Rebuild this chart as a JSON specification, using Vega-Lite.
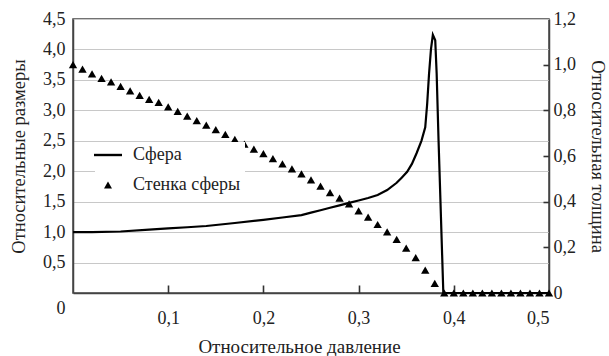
{
  "$schema": "https://vega.github.io/schema/vega-lite/v6.json",
  "width": 476,
  "height": 274,
  "autosize": "none",
  "padding": {"left": 73, "top": 19, "right": 60, "bottom": 63},
  "background": "white",
  "config": {
    "font": "Liberation Serif",
    "view": {"stroke": "#444", "strokeWidth": 1.5},
    "axis": {
      "labelFont": "Liberation Serif",
      "titleFont": "Liberation Serif",
      "labelFontSize": 18,
      "titleFontSize": 18.5,
      "titleFontWeight": "normal",
      "labelColor": "#222",
      "titleColor": "#222",
      "domainColor": "#444",
      "domainWidth": 1.5,
      "tickColor": "#333",
      "tickWidth": 1.6,
      "gridColor": "#c8c8c8",
      "gridWidth": 1.2
    }
  },
  "datasets": {
    "sphere": [
      {"p": 0, "size": 1.0}, {"p": 0.02, "size": 1.0}, {"p": 0.05, "size": 1.01},
      {"p": 0.08, "size": 1.04}, {"p": 0.10, "size": 1.06}, {"p": 0.12, "size": 1.08},
      {"p": 0.14, "size": 1.10}, {"p": 0.17, "size": 1.15}, {"p": 0.20, "size": 1.20},
      {"p": 0.22, "size": 1.24}, {"p": 0.24, "size": 1.28}, {"p": 0.25, "size": 1.32},
      {"p": 0.26, "size": 1.36}, {"p": 0.27, "size": 1.40}, {"p": 0.28, "size": 1.44},
      {"p": 0.29, "size": 1.48}, {"p": 0.30, "size": 1.52}, {"p": 0.31, "size": 1.56},
      {"p": 0.32, "size": 1.61}, {"p": 0.33, "size": 1.69}, {"p": 0.34, "size": 1.81},
      {"p": 0.345, "size": 1.89}, {"p": 0.351, "size": 1.99}, {"p": 0.356, "size": 2.12},
      {"p": 0.361, "size": 2.30}, {"p": 0.366, "size": 2.50}, {"p": 0.370, "size": 2.72},
      {"p": 0.372, "size": 3.1}, {"p": 0.374, "size": 3.6}, {"p": 0.376, "size": 4.0},
      {"p": 0.378, "size": 4.24}, {"p": 0.3805, "size": 4.15}, {"p": 0.382, "size": 3.6},
      {"p": 0.384, "size": 2.5}, {"p": 0.386, "size": 1.5}, {"p": 0.389, "size": 0},
      {"p": 0.5, "size": 0}
    ],
    "wall": [
      {"p": 0.00, "t": 1.0, "series": "Стенка сферы"},
      {"p": 0.01, "t": 0.98, "series": "Стенка сферы"},
      {"p": 0.02, "t": 0.96, "series": "Стенка сферы"},
      {"p": 0.03, "t": 0.94, "series": "Стенка сферы"},
      {"p": 0.04, "t": 0.925, "series": "Стенка сферы"},
      {"p": 0.05, "t": 0.905, "series": "Стенка сферы"},
      {"p": 0.06, "t": 0.885, "series": "Стенка сферы"},
      {"p": 0.07, "t": 0.865, "series": "Стенка сферы"},
      {"p": 0.08, "t": 0.848, "series": "Стенка сферы"},
      {"p": 0.09, "t": 0.835, "series": "Стенка сферы"},
      {"p": 0.10, "t": 0.815, "series": "Стенка сферы"},
      {"p": 0.11, "t": 0.795, "series": "Стенка сферы"},
      {"p": 0.12, "t": 0.775, "series": "Стенка сферы"},
      {"p": 0.13, "t": 0.755, "series": "Стенка сферы"},
      {"p": 0.14, "t": 0.735, "series": "Стенка сферы"},
      {"p": 0.15, "t": 0.715, "series": "Стенка сферы"},
      {"p": 0.16, "t": 0.695, "series": "Стенка сферы"},
      {"p": 0.17, "t": 0.673, "series": "Стенка сферы"},
      {"p": 0.18, "t": 0.652, "series": "Стенка сферы"},
      {"p": 0.19, "t": 0.63, "series": "Стенка сферы"},
      {"p": 0.20, "t": 0.61, "series": "Стенка сферы"},
      {"p": 0.21, "t": 0.588, "series": "Стенка сферы"},
      {"p": 0.22, "t": 0.566, "series": "Стенка сферы"},
      {"p": 0.23, "t": 0.544, "series": "Стенка сферы"},
      {"p": 0.24, "t": 0.522, "series": "Стенка сферы"},
      {"p": 0.25, "t": 0.495, "series": "Стенка сферы"},
      {"p": 0.26, "t": 0.468, "series": "Стенка сферы"},
      {"p": 0.27, "t": 0.44, "series": "Стенка сферы"},
      {"p": 0.28, "t": 0.415, "series": "Стенка сферы"},
      {"p": 0.29, "t": 0.39, "series": "Стенка сферы"},
      {"p": 0.30, "t": 0.36, "series": "Стенка сферы"},
      {"p": 0.31, "t": 0.332, "series": "Стенка сферы"},
      {"p": 0.32, "t": 0.30, "series": "Стенка сферы"},
      {"p": 0.33, "t": 0.268, "series": "Стенка сферы"},
      {"p": 0.34, "t": 0.235, "series": "Стенка сферы"},
      {"p": 0.35, "t": 0.196, "series": "Стенка сферы"},
      {"p": 0.36, "t": 0.155, "series": "Стенка сферы"},
      {"p": 0.37, "t": 0.10, "series": "Стенка сферы"},
      {"p": 0.38, "t": 0.042, "series": "Стенка сферы"},
      {"p": 0.39, "t": 0, "series": "Стенка сферы"},
      {"p": 0.40, "t": 0, "series": "Стенка сферы"},
      {"p": 0.41, "t": 0, "series": "Стенка сферы"},
      {"p": 0.42, "t": 0, "series": "Стенка сферы"},
      {"p": 0.43, "t": 0, "series": "Стенка сферы"},
      {"p": 0.44, "t": 0, "series": "Стенка сферы"},
      {"p": 0.45, "t": 0, "series": "Стенка сферы"},
      {"p": 0.46, "t": 0, "series": "Стенка сферы"},
      {"p": 0.47, "t": 0, "series": "Стенка сферы"},
      {"p": 0.48, "t": 0, "series": "Стенка сферы"},
      {"p": 0.49, "t": 0, "series": "Стенка сферы"},
      {"p": 0.50, "t": 0, "series": "Стенка сферы"}
    ]
  },
  "layer": [
    {
      "data": {"name": "sphere"},
      "mark": {"type": "line", "color": "black", "strokeWidth": 2.2},
      "encoding": {
        "x": {
          "field": "p", "type": "quantitative",
          "scale": {"domain": [0, 0.5], "nice": false},
          "axis": {
            "orient": "bottom",
            "title": "Относительное давление",
            "titleFontSize": 19,
            "titleX": 226,
            "values": [0.1, 0.2, 0.3, 0.4, 0.5],
            "grid": false,
            "ticks": false,
            "labelPadding": 16,
            "titlePadding": 10,
            "labelExpr": "replace(format(datum.value, '.1f'), '.', ',')"
          }
        },
        "y": {
          "field": "size", "type": "quantitative",
          "scale": {"domain": [0, 4.5], "nice": false},
          "axis": {
            "title": "Относительные размеры",
            "values": [0, 0.5, 1, 1.5, 2, 2.5, 3, 3.5, 4, 4.5],
            "ticks": false,
            "grid": true,
            "labelPadding": 8,
            "titlePadding": 14,
            "labelOffset": {"condition": {"test": "datum.value == 0", "value": 15}, "value": 0},
            "labelExpr": "datum.value == 0 ? '0' : replace(format(datum.value, '.1f'), '.', ',')"
          }
        }
      }
    },
    {
      "data": {"name": "wall"},
      "mark": {"type": "point", "opacity": 0, "size": 1},
      "encoding": {
        "x": {
          "field": "p", "type": "quantitative",
          "axis": {
            "orient": "bottom",
            "title": null, "labels": false, "domain": false, "grid": false,
            "values": [0.1, 0.2, 0.3, 0.4],
            "ticks": true, "tickSize": 8, "offset": -8
          }
        },
        "y": {
          "field": "t", "type": "quantitative",
          "scale": {"domain": [0, 1.2], "nice": false},
          "axis": {
            "orient": "right",
            "title": null, "labels": false, "domain": false, "grid": false,
            "values": [0.2, 0.4, 0.6, 0.8, 1.0],
            "ticks": true, "tickSize": 6, "offset": -6
          }
        }
      }
    },
    {
      "data": {"name": "wall"},
      "mark": {"type": "point", "filled": true, "size": 70, "color": "black", "opacity": 1},
      "encoding": {
        "x": {"field": "p", "type": "quantitative", "axis": null},
        "y": {
          "field": "t", "type": "quantitative",
          "scale": {"domain": [0, 1.2], "nice": false},
          "axis": {
            "orient": "right",
            "title": "Относительная толщина",
            "values": [0, 0.2, 0.4, 0.6, 0.8, 1.0, 1.2],
            "grid": false,
            "ticks": false,
            "labelPadding": 4,
            "titlePadding": 12,
            "labelExpr": "datum.value == 0 ? '0' : replace(format(datum.value, '.1f'), '.', ',')"
          }
        },
        "shape": {
          "field": "series", "type": "nominal",
          "scale": {
            "domain": ["Сфера", "Стенка сферы"],
            "range": ["M-3.5,-0.3L3.5,-0.3L3.5,0.3L-3.5,0.3Z", "triangle-up"]
          },
          "legend": {
            "title": null,
            "orient": "none",
            "legendX": 22,
            "legendY": 123,
            "fillColor": "white",
            "padding": 4,
            "labelFont": "Liberation Serif",
            "labelFontSize": 18,
            "labelColor": "#222",
            "symbolSize": 64,
            "symbolFillColor": "black",
            "symbolStrokeWidth": 0,
            "labelOffset": 16,
            "rowPadding": 12
          }
        }
      }
    }
  ],
  "resolve": {"scale": {"y": "independent"}, "axis": {"x": "independent"}}
}
